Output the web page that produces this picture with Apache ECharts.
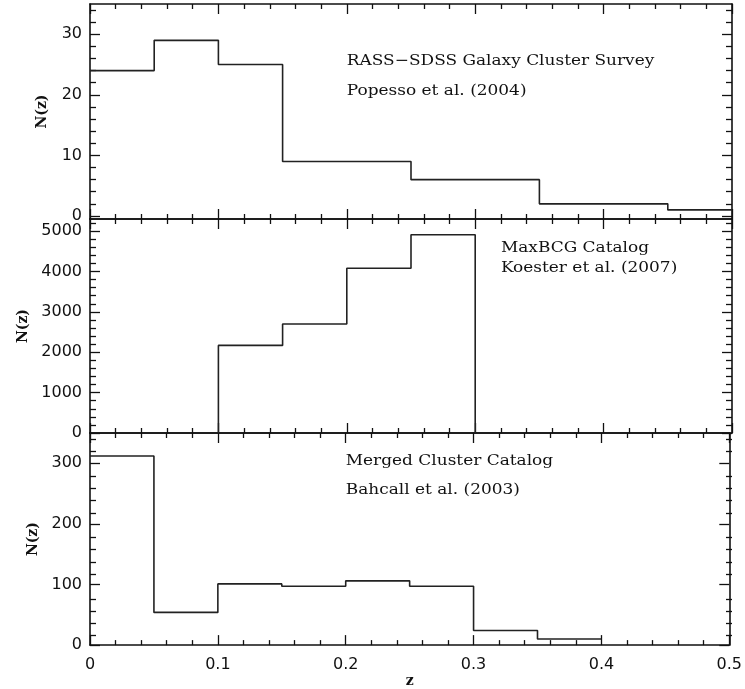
<!DOCTYPE html>
<html>
<head>
<meta charset="utf-8">
<script src="https://cdn.jsdelivr.net/npm/echarts@6/dist/echarts.min.js"></script>
<style>html,body{margin:0;padding:0;background:#fff;}#c{width:745px;height:689px;}</style>
</head>
<body>
<div id="c"></div>
<script>
// ---- data ----
const binWidth = 0.05;
const rassBins   = [0, 0.05, 0.10, 0.15, 0.20, 0.25, 0.30, 0.35, 0.40, 0.45];
const rassCounts = [24, 29, 25, 9, 9, 6, 6, 2, 2, 1];
const maxbcgBins   = [0.10, 0.15, 0.20, 0.25];
const maxbcgCounts = [2170, 2700, 4080, 4910];
const mergedBins   = [0, 0.05, 0.10, 0.15, 0.20, 0.25, 0.30, 0.35];
const mergedCounts = [312, 54, 101, 97, 106, 97, 24, 10];

// ---- tick labels ----
const zTicks = [0, 0.1, 0.2, 0.3, 0.4, 0.5];
const rassTicks = [0, 10, 20, 30];
const maxbcgTicks = [0, 1000, 2000, 3000, 4000, 5000];
const mergedTicks = [0, 100, 200, 300];
const yTitle = 'N(z)';
const xTitle = 'z';
const notes = [
  ['RASS\u2212SDSS Galaxy Cluster Survey', 'Popesso et al. (2004)'],
  ['MaxBCG Catalog', 'Koester et al. (2007)'],
  ['Merged Cluster Catalog', 'Bahcall et al. (2003)']
];

// ---- layout / style ----
const panels = [
  {top: 4,   height: 215, min: -0.5, max: 35,   major: rassTicks,   minorStep: 2,   nameGap: 41,
   note: [[0.2, 25.6], [0.2, 20.6]]},
  {top: 219, height: 214, min: 0,    max: 5300, major: maxbcgTicks, minorStep: 200, nameGap: 60,
   note: [[0.32, 4570], [0.32, 4075]]},
  {top: 433, height: 215, min: 0,    max: 350,  major: mergedTicks, minorStep: 20,  nameGap: 50,
   note: [[0.2, 302.8], [0.2, 255.3]]}
];
const INK = '#111';
const tickFont = {fontFamily: 'DejaVu Sans', fontSize: 16, color: INK};

function stepClosed(bins, counts, w) {
  const pts = [[bins[0], 0]];
  bins.forEach((b, i) => pts.push([b, counts[i]]));
  pts.push([bins[bins.length - 1] + w, 0]);
  return pts;
}
function stepOpen(bins, counts, w) {
  const pts = bins.map((b, i) => [b, counts[i]]);
  pts.push([bins[bins.length - 1] + w, counts[counts.length - 1]]);
  return pts;
}
function minorValues(min, max, step, major) {
  const out = [];
  for (let v = Math.ceil(min / step) * step; v <= max + 1e-9; v += step) {
    const r = Math.round(v * 1000) / 1000;
    if (major.indexOf(r) < 0) out.push(r);
  }
  return out;
}

const seriesData = [
  stepOpen(rassBins, rassCounts, binWidth),
  stepClosed(maxbcgBins, maxbcgCounts, binWidth),
  stepOpen(mergedBins, mergedCounts, binWidth)
];

const grid = [], xAxis = [], yAxis = [], series = [];
panels.forEach((p, i) => {
  // grid 2i: frame, major ticks, labels; grid 2i+1: minor y ticks (same rectangle)
  grid.push({left: 90, right: 13, top: p.top, height: p.height});
  grid.push({left: 90, right: 13, top: p.top, height: p.height});
  const axLine = {show: true, onZero: false, lineStyle: {color: INK, width: 1.6}};
  ['bottom', 'top'].forEach(pos => {
    const lab = (i === 2 && pos === 'bottom');
    xAxis.push({
      type: 'value', gridIndex: 2 * i, position: pos, min: 0, max: 0.5, interval: 0.1,
      axisLine: axLine,
      axisTick: {show: true, inside: true, length: 10, lineStyle: {color: INK, width: 1.3}},
      minorTick: {show: true, splitNumber: 5, length: 5, lineStyle: {color: INK, width: 1.3}},
      splitLine: {show: false}, minorSplitLine: {show: false},
      axisLabel: lab ? Object.assign({show: true, margin: 12,
          customValues: zTicks, formatter: v => String(v)}, tickFont) : {show: false},
      name: lab ? xTitle : '',
      nameLocation: 'middle', nameGap: 28,
      nameTextStyle: {fontFamily: 'DejaVu Serif', fontWeight: 'bold', fontSize: 14, color: INK}
    });
  });
  xAxis.push({type: 'value', gridIndex: 2 * i + 1, min: 0, max: 0.5, show: false});
  const minors = minorValues(p.min, p.max, p.minorStep, p.major);
  ['left', 'right'].forEach(pos => {
    yAxis.push({
      type: 'value', gridIndex: 2 * i, position: pos, min: p.min, max: p.max,
      axisLine: axLine,
      axisTick: {show: true, inside: true, length: 10, customValues: p.major, lineStyle: {color: INK, width: 1.3}},
      splitLine: {show: false},
      axisLabel: pos === 'left' ? Object.assign({show: true, margin: 8, customValues: p.major,
          formatter: v => String(v)}, tickFont) : {show: false},
      name: pos === 'left' ? yTitle : '',
      nameLocation: 'middle', nameRotate: 90, nameGap: p.nameGap,
      nameTextStyle: {fontFamily: 'DejaVu Serif', fontWeight: 'bold', fontSize: 14, color: INK}
    });
  });
  ['left', 'right'].forEach(pos => {
    yAxis.push({
      type: 'value', gridIndex: 2 * i + 1, position: pos, min: p.min, max: p.max,
      axisLine: {show: false, onZero: false},
      axisTick: {show: true, inside: true, length: 6, customValues: minors, lineStyle: {color: INK, width: 1.3}},
      splitLine: {show: false},
      axisLabel: {show: false}
    });
  });
  series.push({
    type: 'line', xAxisIndex: 3 * i, yAxisIndex: 4 * i, step: 'end',
    data: seriesData[i], showSymbol: false, symbol: 'none', silent: true,
    lineStyle: {color: '#222', width: 1.6}
  });
});

const chart = echarts.init(document.getElementById('c'), null, {renderer: 'canvas'});
chart.setOption({animation: false, backgroundColor: '#fff', grid, xAxis, yAxis, series});

const graphics = [];
panels.forEach((p, i) => {
  p.note.forEach((c, k) => {
    const px = chart.convertToPixel({seriesIndex: i}, c);
    graphics.push({
      type: 'text', x: px[0], y: px[1], scaleX: 1.13, silent: true,
      style: {text: notes[i][k], fill: INK, font: '15px "DejaVu Serif"', textAlign: 'left', textVerticalAlign: 'middle'}
    });
  });
});
chart.setOption({graphic: graphics});
</script>
</body>
</html>
